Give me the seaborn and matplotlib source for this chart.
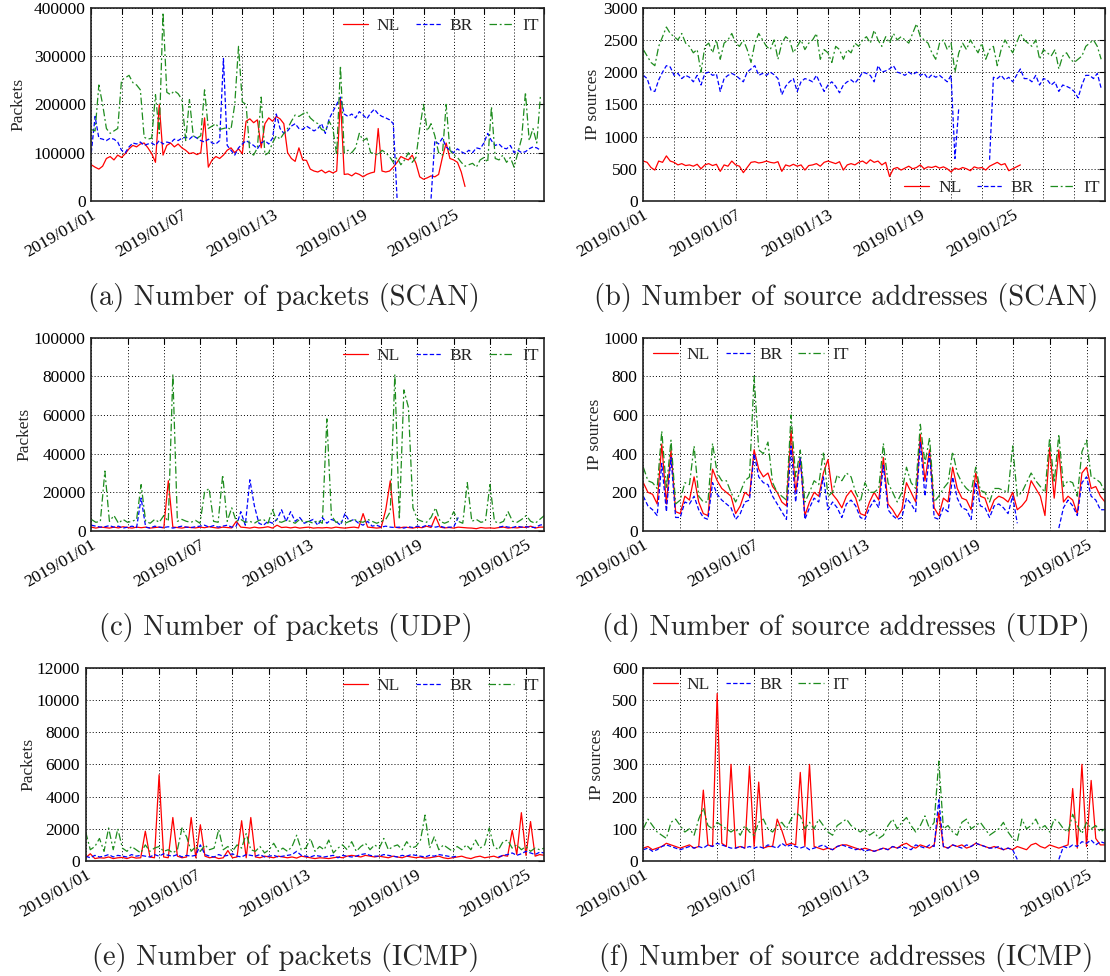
import numpy as np
import pandas as pd
import matplotlib
matplotlib.use("Agg")
import matplotlib.pyplot as plt
import matplotlib.dates as mdates
import matplotlib.transforms as mtransforms
from matplotlib.lines import Line2D
import seaborn as sns

nan = np.nan

# ---------------- data: one value every 6 hours from 2019/01/01 00:00 ----------------
# (a) SCAN packets, thousands
NL_a = [75, 70, 66, 72, 88, 92, 85, 95, 90, 98, 108, 115, 112, 118, 120, 110,
        98, 80, 200, 95, 115, 120, 112, 118, 110, 105, 98, 100, 96, 100, 172, 70,
        85, 92, 88, 95, 105, 110, 100, 108, 98, 165, 170, 162, 168, 110, 160, 172,
        165, 175, 170, 160, 100, 88, 82, 110, 85, 84, 66, 62, 60, 64, 58, 62,
        58, 62, 210, 55, 56, 52, 58, 55, 50, 55, 58, 60, 150, 62, 60, 62,
        70, 80, 92, 88, 85, 95, 78, 50, 45, 48, 52, 50, 55, 90, 120, 88,
        85, 80, 60, 30, nan, nan, nan, nan, nan, nan, nan, nan, nan, nan, nan, nan,
        nan, nan, nan, nan, nan, nan, nan, nan]
BR_a = [100, 175, 130, 128, 125, 130, 128, 122, 105, 100, 112, 120, 118, 122, 115, 118,
        120, 115, 125, 118, 122, 120, 128, 125, 130, 132, 128, 135, 130, 125, 122, 128,
        120, 118, 125, 295, 115, 105, 95, 110, 118, 125, 120, 115, 108, 120, 125, 118,
        130, 180, 150, 140, 145, 155, 160, 150, 148, 155, 150, 145, 150, 160, 140, 170,
        185, 200, 215, 180, 175, 180, 172, 185, 178, 170, 182, 190, 180, 175, 172, 168,
        160, 5, nan, nan, nan, nan, nan, nan, nan, nan, 5, 125, 118, 130, 112, 105,
        100, 108, 102, 98, 105, 100, 110, 108, 120, 140, 125, 115, 118, 110, 108, 115,
        100, 105, 100, 102, 108, 112, 110, 105]
IT_a = [148, 145, 240, 200, 150, 140, 145, 150, 250, 255, 260, 245, 240, 230, 132, 128,
        130, 220, 140, 390, 225, 220, 228, 222, 210, 125, 210, 135, 130, 135, 230, 150,
        155, 160, 148, 150, 152, 148, 200, 320, 205, 200, 100, 95, 110, 215, 95, 100,
        120, 135, 128, 140, 150, 165, 178, 175, 180, 185, 172, 165, 160, 148, 145, 165,
        150, 95, 280, 100, 105, 100, 110, 140, 125, 130, 100, 98, 95, 105, 100, 92,
        80, 90, 75, 85, 100, 80, 90, 150, 200, 145, 160, 135, 100, 95, 200, 105,
        95, 90, 80, 72, 75, 78, 70, 85, 90, 80, 195, 88, 85, 95, 80, 90,
        70, 100, 130, 225, 125, 150, 120, 220]

# (b) SCAN IP sources
NL_b = [620, 600, 520, 480, 620, 600, 700, 620, 600, 560, 580, 550, 560, 540, 570, 500,
        560, 580, 550, 570, 460, 560, 540, 620, 560, 540, 440, 520, 600, 610, 590, 600,
        620, 600, 590, 610, 460, 560, 540, 570, 540, 560, 480, 550, 560, 580, 540, 600,
        620, 600, 580, 610, 480, 560, 580, 560, 600, 620, 580, 640, 600, 620, 560, 600,
        380, 500, 520, 480, 510, 540, 500, 520, 560, 500, 530, 520, 540, 510, 530, 500,
        450, 510, 490, 520, 500, 470, 530, 510, 520, 480, 540, 570, 600, 560, 580, 470,
        500, 530, 560, nan, nan, nan, nan, nan, nan, nan, nan, nan, nan, nan, nan, nan,
        nan, nan, nan, nan, nan, nan, nan, nan]
BR_b = [1950, 1900, 1720, 1700, 1880, 2000, 2100, 2080, 1950, 1980, 1900, 1950, 1920, 1850, 1950, 1800,
        1980, 2000, 1950, 1970, 1700, 1900, 1950, 1980, 1950, 1900, 1850, 2000, 2050, 2100, 1950, 1980,
        1950, 2000, 1960, 1900, 1650, 1780, 1850, 1900, 1700, 1850, 1900, 1880, 1850, 1950, 1820, 1700,
        1800, 1850, 1780, 1680, 1800, 1850, 1880, 1830, 1900, 2000, 1980, 1950, 1850, 2100, 2000, 2020,
        2050, 2100, 2000, 1980, 1950, 2000, 1960, 2000, 1950, 1980, 1900, 1960, 1920, 1950, 1900, 1850,
        1950, 660, 1450, nan, nan, nan, nan, nan, nan, nan, 640, 1920, 1900, 1950, 1880, 1920,
        1850, 1950, 2050, 1900, 1900, 1850, 1950, 1800, 1900, 1880, 1800, 1850, 1700, 1800, 1780, 1750,
        1700, 1600, 1800, 1950, 1950, 1900, 1980, 1750]
IT_b = [2350, 2250, 2150, 2100, 2400, 2550, 2700, 2600, 2550, 2500, 2600, 2450, 2400, 2300, 2350, 2000,
        2400, 2450, 2300, 2500, 2200, 2450, 2500, 2600, 2450, 2400, 2500, 2350, 2150, 2450, 2600, 2500,
        2400, 2350, 2500, 2200, 2450, 2550, 2500, 2300, 2400, 2500, 2350, 2450, 2500, 2600, 2200, 2350,
        2300, 2150, 2400, 2350, 2200, 2350, 2300, 2450, 2400, 2500, 2550, 2450, 2650, 2500, 2400, 2550,
        2450, 2600, 2500, 2550, 2500, 2450, 2600, 2750, 2550, 2500, 2450, 2300, 2200, 2450, 2500, 2350,
        2450, 2000, 2300, 2450, 2350, 2500, 2400, 2300, 2450, 2200, 2350, 2400, 2100, 2350, 2500, 2400,
        2300, 2450, 2600, 2500, 2450, 2400, 2500, 2200, 2350, 2300, 2250, 2350, 2050, 2250, 2300, 2200,
        2150, 2200, 2250, 2400, 2450, 2500, 2400, 2200]

# (c) UDP packets, thousands
NL_c = [2, 1.5, 2, 1.8, 1.5, 2, 1.6, 2.2, 1.8, 1.5, 2, 1.7, 2, 1.5, 1.8, 2,
        1.6, 26, 2, 1.8, 1.5, 2, 1.8, 1.6, 2, 1.7, 2.2, 1.8, 1.5, 2, 1.8, 1.6,
        5, 2, 1.8, 1.5, 2, 1.6, 1.8, 2.2, 1.5, 3, 1.8, 2, 1.6, 2, 1.5, 1.8,
        2, 1.5, 1.7, 1.6, 1.8, 1.5, 2, 1.7, 1.5, 1.8, 2, 1.6, 9, 2, 1.8, 1.5,
        1.8, 11, 26, 2, 1.6, 2, 1.8, 1.5, 2, 1.7, 2.5, 1.8, 7.5, 2, 1.6, 1.8,
        1.5, 2, 1.8, 1.6, 1.5, 1.2, 1.8, 1.5, 1.6, 1.4, 1.8, 2, 1.5, 1.8, 1.6, 2,
        1.8, 2.5, 1.5, 2, 2]
BR_c = [3, 2.5, 2, 2.2, 2.8, 2, 2.5, 1.5, 2, 2.5, 1.8, 17, 2, 1.5, 2.5, 2,
        1.8, 2.2, 1.5, 2, 2.5, 2, 1.8, 2.2, 2.5, 3, 2, 2.8, 2, 2.5, 3, 2,
        2.5, 10, 3, 26.5, 13, 4, 3, 5, 4, 6, 11, 5, 10, 5, 7, 4,
        5, 6, 3, 7, 4, 6, 5, 3, 9, 5, 6, 4, 3, 5, 2.5, 3,
        2, 2.5, 2, 1.8, 2, 1.5, 2.2, 1.8, 2.5, 2, 3, 2.5, 2, 2.5, 1.8, 2,
        2, 7, nan, nan, nan, nan, nan, nan, nan, nan, 2, 2.5, 2, 1.8, 2.5, 2,
        2.2, 2, 1.8, 3, 3.5]
IT_c = [6, 4.5, 5, 31, 5, 8, 4, 6, 4.5, 5, 6, 24, 5, 4, 6, 4.5,
        8, 5, 81, 5, 6, 5, 4.5, 5.5, 4, 20, 22, 5, 4.5, 29, 5, 12,
        5, 6, 4.5, 5, 4, 5.5, 6, 4, 11, 5, 4.5, 5.5, 5, 4, 6, 4.5,
        5, 4, 5.5, 4, 58, 8, 4.5, 5, 4, 5, 6, 5, 4.5, 6, 5, 4,
        5, 6, 10, 81, 6, 73, 64, 12, 6, 5, 4.5, 7, 12, 5, 4, 5,
        10, 5, 4, 25, 5, 6, 4.5, 5, 24, 5, 4, 5, 10, 5, 4.5, 6,
        8, 5, 4, 6, 8]

# (d) UDP IP sources
NL_d = [250, 200, 190, 140, 450, 140, 420, 100, 90, 180, 160, 280, 150, 90, 80, 320,
        260, 220, 200, 180, 90, 130, 200, 180, 420, 320, 280, 300, 230, 200, 150, 130,
        520, 200, 380, 80, 150, 200, 180, 300, 370, 190, 160, 120, 180, 210, 170, 90,
        80, 150, 200, 160, 380, 140, 110, 70, 110, 250, 200, 150, 500, 260, 420, 120,
        80, 170, 150, 330, 220, 170, 160, 110, 300, 180, 170, 100, 160, 180, 170, 150,
        200, 110, 130, 160, 260, 220, 180, 80, 430, 170, 420, 150, 180, 160, 90, 300,
        330, 220, 230, 180, 150]
BR_d = [180, 130, 110, 80, 350, 100, 380, 70, 70, 150, 140, 180, 110, 70, 60, 250,
        190, 160, 140, 120, 60, 90, 150, 160, 400, 280, 250, 240, 180, 140, 100, 60,
        440, 150, 380, 60, 120, 170, 150, 280, 110, 150, 120, 70, 140, 160, 130, 70,
        60, 120, 160, 120, 340, 110, 80, 60, 70, 170, 140, 100, 460, 180, 400, 70,
        60, 120, 100, 280, 170, 120, 110, 60, 250, 130, 120, 70, 130, 140, 120, 90,
        180, 40, nan, nan, nan, nan, nan, nan, nan, nan, 15, 120, 160, 130, 80, 250,
        280, 180, 160, 110, 110]
IT_d = [330, 260, 250, 220, 517, 220, 470, 140, 160, 250, 240, 440, 180, 150, 150, 453,
        300, 260, 260, 200, 150, 200, 260, 280, 800, 420, 400, 460, 250, 200, 180, 160,
        600, 280, 419, 150, 200, 260, 240, 410, 180, 200, 290, 260, 300, 280, 200, 150,
        250, 200, 200, 220, 453, 250, 200, 150, 200, 330, 250, 220, 552, 350, 483, 150,
        180, 220, 250, 410, 300, 250, 220, 200, 330, 210, 200, 150, 220, 220, 210, 200,
        440, 180, 200, 250, 300, 260, 230, 200, 480, 250, 500, 230, 260, 250, 180, 410,
        470, 280, 270, 250, 200]

# (e) ICMP packets
NL_e = [200, 450, 150, 200, 180, 250, 150, 200, 220, 150, 250, 180, 200, 1850, 250, 200,
        5350, 250, 200, 2700, 300, 200, 250, 2700, 200, 2250, 300, 200, 250, 150, 200, 650,
        200, 250, 2500, 200, 2700, 250, 200, 300, 250, 200, 300, 250, 200, 250, 180, 300,
        250, 200, 150, 200, 180, 150, 200, 250, 200, 300, 350, 300, 250, 350, 300, 250,
        300, 250, 200, 300, 250, 200, 300, 250, 200, 250, 180, 200, 250, 300, 200, 150,
        200, 250, 300, 200, 150, 250, 300, 200, 250, 300, 200, 350, 300, 1900, 400, 3000,
        350, 2450, 300, 400, 350]
BR_e = [300, 200, 350, 250, 300, 400, 250, 350, 300, 250, 400, 300, 350, 300, 250, 400,
        300, 450, 350, 300, 400, 250, 350, 300, 350, 1000, 400, 300, 250, 400, 300, 350,
        450, 300, 250, 400, 350, 300, 400, 250, 300, 350, 250, 300, 350, 400, 600, 350,
        300, 250, 350, 300, 250, 300, 350, 200, 350, 300, 250, 300, 400, 450, 350, 300,
        300, 400, 350, 300, 250, 350, 300, 400, 350, 300, 250, 350, 300, 400, 350, 300,
        250, 300, nan, nan, nan, nan, nan, nan, nan, nan, 250, 350, 400, 500, 350, 450,
        600, 500, 400, 550, 500]
IT_e = [1800, 700, 900, 1400, 600, 2050, 700, 2000, 800, 600, 900, 700, 500, 1000, 600, 800,
        900, 600, 700, 500, 700, 2050, 1500, 600, 900, 600, 1000, 700, 800, 1950, 700, 900,
        600, 1000, 800, 1700, 700, 600, 900, 500, 700, 1100, 600, 800, 600, 900, 1600, 700,
        800, 1400, 600, 900, 700, 1300, 500, 800, 1000, 700, 1200, 600, 900, 1100, 700, 1000,
        800, 1400, 700, 900, 1000, 700, 1200, 800, 900, 1300, 2850, 800, 1500, 700, 1000, 800,
        600, 900, 700, 1000, 700, 1300, 800, 1000, 2050, 900, 700, 1200, 1300, 800, 1000, 700,
        900, 600, 800, 700, 800]

# (f) ICMP IP sources
NL_f = [40, 45, 35, 40, 45, 55, 50, 45, 40, 45, 50, 40, 45, 220, 50, 45,
        520, 55, 45, 300, 40, 45, 40, 295, 45, 245, 40, 45, 45, 130, 95, 50,
        55, 50, 275, 45, 300, 45, 40, 35, 40, 35, 45, 50, 50, 45, 40, 35,
        40, 35, 30, 35, 40, 35, 45, 40, 50, 55, 45, 40, 50, 45, 40, 50,
        150, 45, 40, 50, 45, 50, 40, 45, 55, 50, 45, 40, 45, 40, 35, 40,
        35, 45, 40, 35, 50, 55, 45, 40, 50, 45, 40, 45, 50, 225, 40, 300,
        45, 250, 70, 50, 50]
BR_f = [35, 40, 30, 35, 45, 50, 45, 40, 35, 40, 45, 40, 45, 40, 50, 45,
        55, 50, 45, 40, 40, 45, 40, 45, 40, 45, 40, 50, 45, 40, 55, 45,
        50, 45, 40, 45, 35, 40, 45, 50, 40, 35, 45, 50, 45, 40, 35, 40,
        30, 35, 30, 35, 40, 35, 45, 40, 45, 40, 35, 50, 45, 40, 50, 45,
        190, 45, 40, 50, 45, 40, 50, 45, 55, 50, 45, 40, 40, 45, 35, 40,
        35, 5, nan, nan, nan, nan, nan, nan, nan, nan, 5, 45, 40, 50, 45, 60,
        55, 65, 50, 60, 55]
IT_f = [100, 130, 110, 90, 80, 70, 120, 130, 110, 90, 100, 80, 130, 165, 110, 100,
        120, 110, 100, 90, 100, 80, 110, 90, 80, 120, 130, 100, 90, 110, 120, 100,
        130, 150, 140, 100, 120, 100, 130, 110, 90, 80, 110, 120, 130, 110, 100, 90,
        100, 80, 90, 70, 80, 110, 130, 100, 120, 135, 110, 90, 110, 140, 100, 120,
        310, 100, 110, 90, 80, 120, 130, 100, 110, 120, 100, 80, 90, 100, 120, 90,
        70, 60, 130, 100, 110, 130, 100, 110, 90, 130, 120, 100, 90, 145, 110, 85,
        120, 100, 110, 90, 100]

COUNTRIES = ["NL", "BR", "IT"]
CAPTIONS = ["(a) Number of packets (SCAN)", "(b) Number of source addresses (SCAN)",
            "(c) Number of packets (UDP)", "(d) Number of source addresses (UDP)",
            "(e) Number of packets (ICMP)", "(f) Number of source addresses (ICMP)"]
LABELED_DATES = ["2019/01/01", "2019/01/07", "2019/01/13", "2019/01/19", "2019/01/25"]

# ---------------- style ----------------
sns.set_style("white")
plt.rcParams["font.family"] = ["Liberation Serif", "DejaVu Serif"]
plt.rcParams["axes.unicode_minus"] = False

COLORS = {"NL": "#ff0000", "BR": "#0000ff", "IT": "#1e8c1e"}
DASHES = {"NL": "", "BR": (3.5, 1.8), "IT": (6, 2.2, 1.5, 2.2)}
LW = 0.9
FS = 12.5

W, H = 1110, 976
fig = plt.figure(figsize=(W / 100, H / 100), dpi=100)


def rect(x0, y0, x1, y1):
    return [x0 / W, 1 - y1 / H, (x1 - x0) / W, (y1 - y0) / H]


def frame(series, scale=1.0):
    parts = []
    for c, vals in zip(COUNTRIES, series):
        v = np.asarray(vals, float) * scale
        t = pd.date_range("2019-01-01", periods=len(v), freq="6h")
        seg = np.cumsum(np.isnan(v))
        parts.append(pd.DataFrame({"t": t, "v": v, "country": c, "seg": seg}).dropna())
    return pd.concat(parts, ignore_index=True)


panels = [
    dict(box=(91.3, 7.7, 544.3, 201), data=frame([NL_a, BR_a, IT_a], 1000), end="2019-01-31",
         ymax=400000, ystep=100000, ylabel="Packets", ylx=-0.144,
         leg=("center right", (0.988, 0.907)), cap=(284, 297)),
    dict(box=(643.3, 7.7, 1105, 201), data=frame([NL_b, BR_b, IT_b]), end="2019-01-31",
         ymax=3000, ystep=500, ylabel="IP sources", ylx=-0.092,
         leg=("center right", (0.989, 0.067)), cap=(846, 297)),
    dict(box=(91.3, 337.7, 544.3, 531), data=frame([NL_c, BR_c, IT_c], 1000), end="2019-01-26",
         ymax=100000, ystep=20000, ylabel="Packets", ylx=-0.129,
         leg=("center right", (0.988, 0.907)), cap=(286, 627)),
    dict(box=(643.3, 337.7, 1105, 531), data=frame([NL_d, BR_d, IT_d]), end="2019-01-26",
         ymax=1000, ystep=200, ylabel="IP sources", ylx=-0.088,
         leg=("center left", (0.021, 0.91)), cap=(846, 627)),
    dict(box=(85.7, 667.7, 544.3, 861), data=frame([NL_e, BR_e, IT_e]), end="2019-01-26",
         ymax=12000, ystep=2000, ylabel="Packets", ylx=-0.107,
         leg=("center right", (0.988, 0.907)), cap=(286, 957)),
    dict(box=(643.3, 667.7, 1105, 861), data=frame([NL_f, BR_f, IT_f]), end="2019-01-26",
         ymax=600, ystep=100, ylabel="IP sources", ylx=-0.084,
         leg=("center left", (0.021, 0.91)), cap=(846, 957)),
]

label_offset = mtransforms.ScaledTranslation(5 / 100, -2 / 100, fig.dpi_scale_trans)

for p, cap in zip(panels, CAPTIONS):
    ax = fig.add_axes(rect(*p["box"]))
    sns.lineplot(data=p["data"], x="t", y="v", hue="country", style="country",
                 units="seg", estimator=None, hue_order=COUNTRIES, style_order=COUNTRIES,
                 palette=COLORS, dashes=DASHES, linewidth=LW, legend=False, ax=ax)

    start = pd.Timestamp("2019-01-01")
    end = pd.Timestamp(p["end"])
    ticks = pd.date_range(start, end, freq="2D")
    ax.set_xlim(mdates.date2num(start.to_pydatetime()), mdates.date2num(end.to_pydatetime()))
    ax.set_xticks([mdates.date2num(t.to_pydatetime()) for t in ticks])
    labels = [t.strftime("%Y/%m/%d") for t in ticks]
    ax.set_xticklabels([s if s in LABELED_DATES else "" for s in labels])
    for lab in ax.get_xticklabels():
        lab.set_rotation(30)
        lab.set_ha("right")
        lab.set_rotation_mode("anchor")
        lab.set_transform(lab.get_transform() + label_offset)

    yt = list(range(0, p["ymax"] + 1, p["ystep"]))
    ax.set_ylim(0, p["ymax"])
    ax.set_yticks(yt)
    ax.set_yticklabels([str(v) for v in yt])

    ax.tick_params(axis="both", which="major", direction="in", length=4, width=0.8,
                   labelsize=FS, pad=4, top=True, right=True, colors="black")
    ax.grid(True, color="black", linestyle=(0, (1, 2.2)), linewidth=0.7)
    for s in ax.spines.values():
        s.set_color("#222222")
        s.set_linewidth(1.2)

    ax.set_xlabel("")
    ax.set_ylabel(p["ylabel"], fontsize=FS)
    ax.yaxis.set_label_coords(p["ylx"], 0.5)

    handles = [Line2D([0], [0], color=COLORS[c], lw=LW,
                      **({"linestyle": "-"} if c == "NL" else {"dashes": DASHES[c]}))
               for c in COUNTRIES]
    loc, anchor = p["leg"]
    ax.legend(handles, COUNTRIES, loc=loc, bbox_to_anchor=anchor, ncol=3, frameon=False,
              fontsize=FS, handlelength=1.45, handletextpad=0.5, columnspacing=0.9,
              borderpad=0, borderaxespad=0)

    fig.text(p["cap"][0] / W, 1 - p["cap"][1] / H, cap, family="cmr10", fontsize=20.5,
             ha="center", va="center")

fig.savefig("out.png", dpi=100)
